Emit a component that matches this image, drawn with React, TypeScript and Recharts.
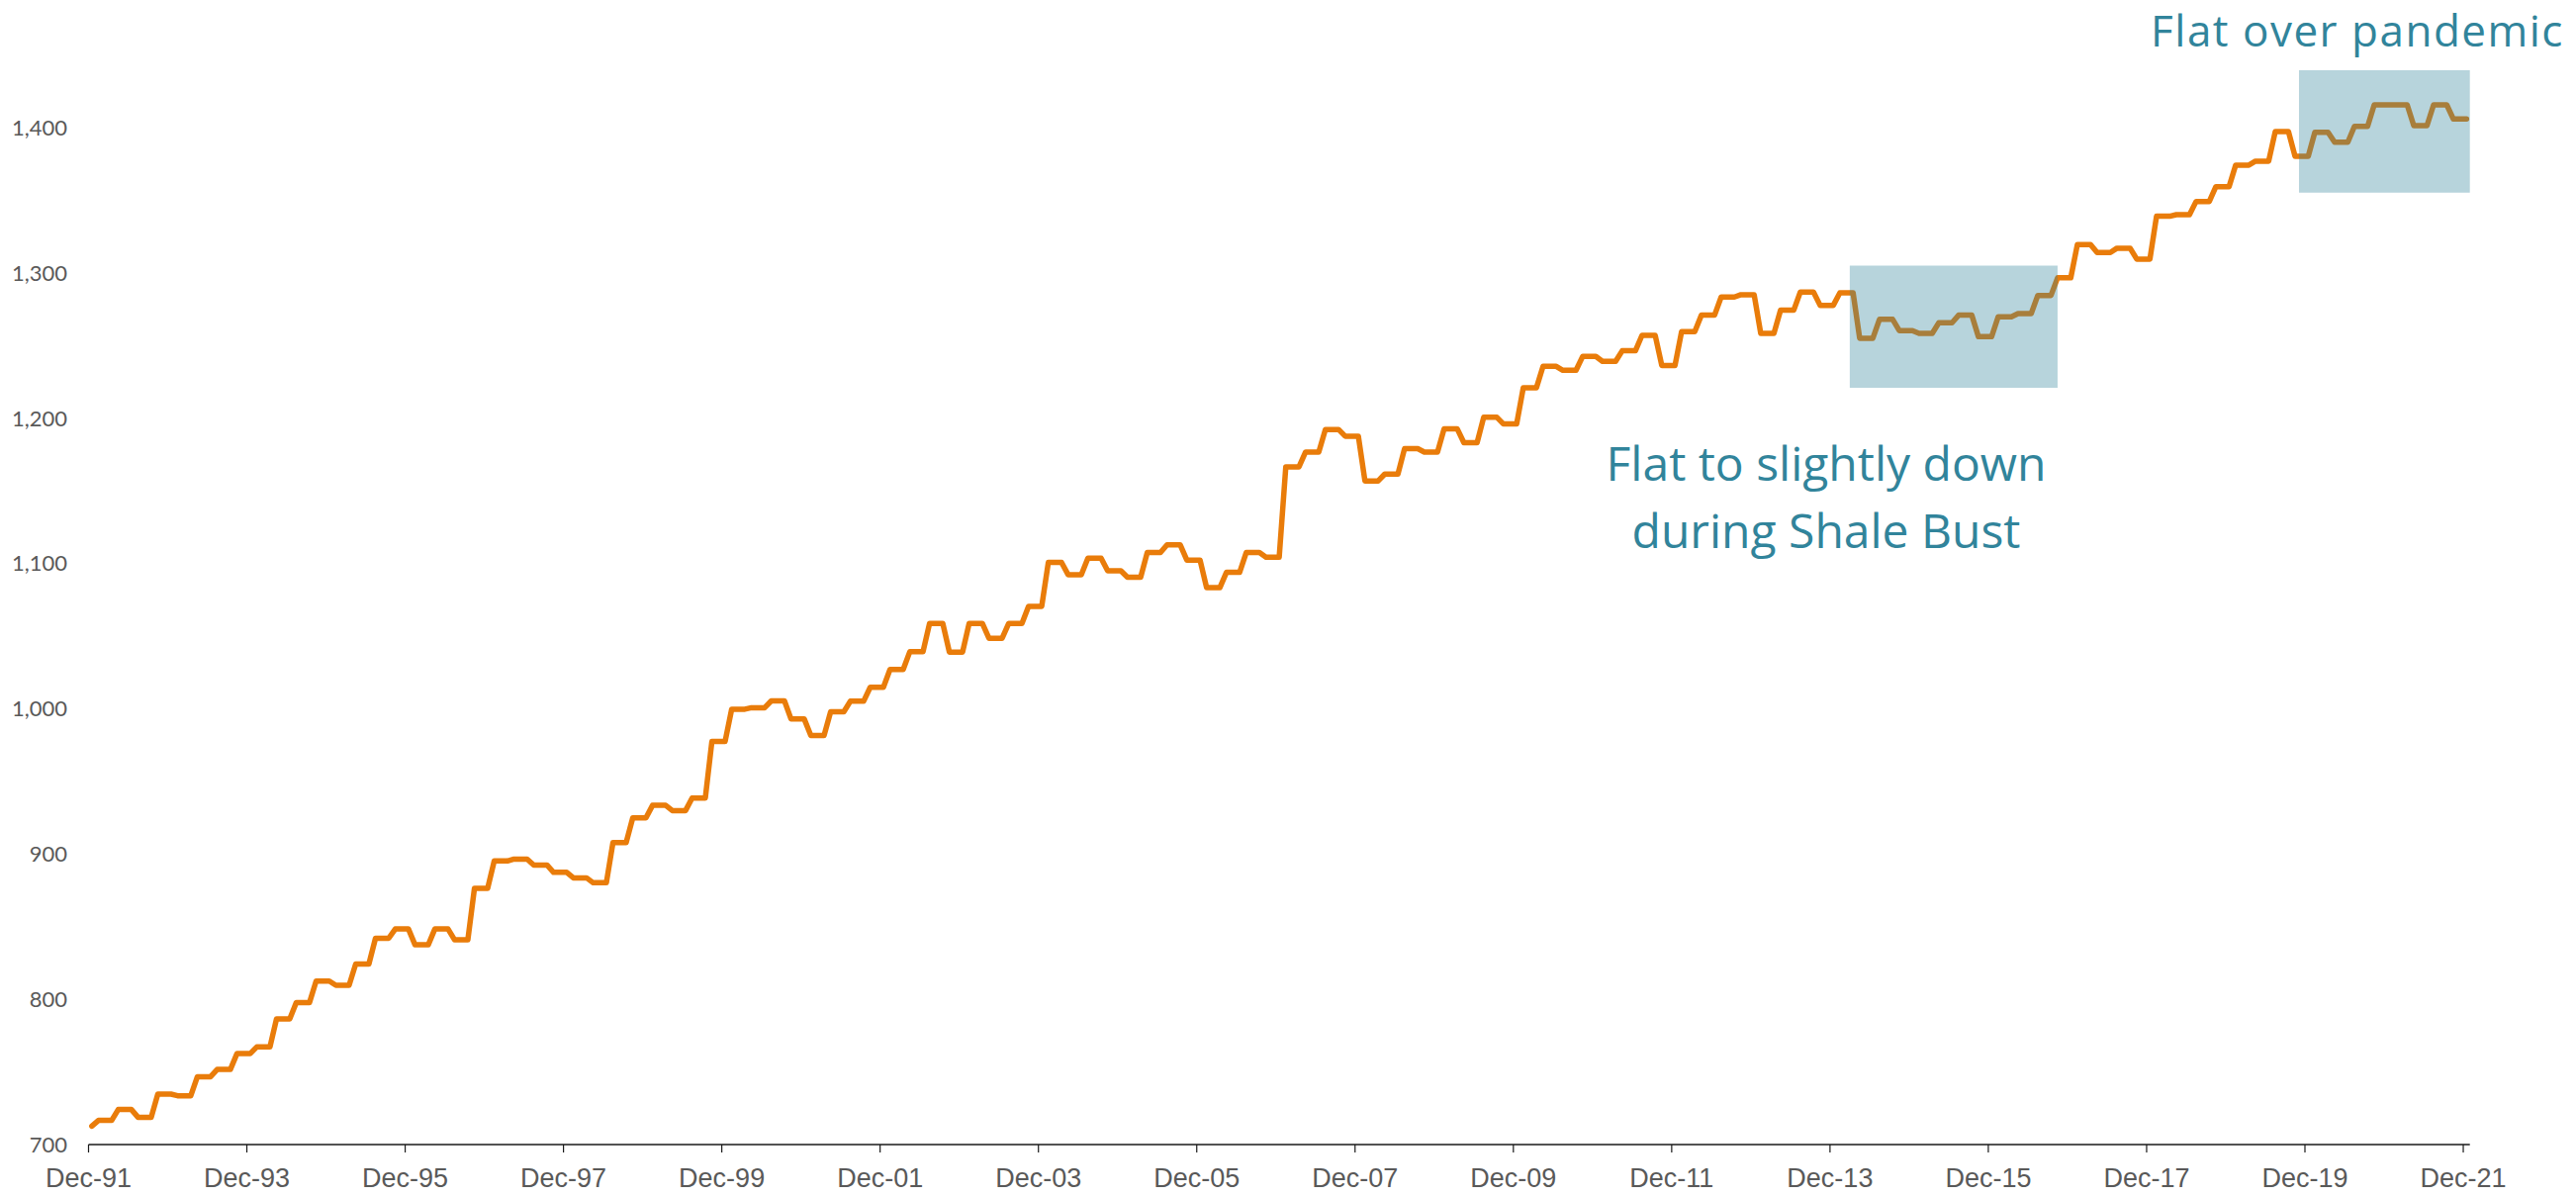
import React from 'react';
import { LineChart, Line, XAxis, YAxis, ReferenceArea } from 'recharts';

// Quarterly readings (first value = Dec-91, then each value holds for 3 months)
const quarterlyValues: number[] = [
  712.7,
  716.6, 724.1, 718.8, 734.7, 733.6, 746.7, 751.7, 762.6, 767.2, 786.5,
  797.8, 812.5, 809.6, 824.3, 842.0, 848.4, 837.5, 848.4, 840.9, 876.3,
  895.2, 896.5, 892.4, 887.4, 883.6, 880.2, 907.9, 924.9, 933.5, 929.9,
  938.5, 977.5, 999.7, 1000.7, 1005.4, 992.9, 981.6, 997.9, 1005.2, 1014.8,
  1027.0, 1039.2, 1058.7, 1039.0, 1058.7, 1048.5, 1058.7, 1070.5, 1100.7, 1092.3,
  1103.7, 1095.0, 1090.5, 1107.5, 1112.8, 1102.3, 1083.3, 1093.9, 1107.5, 1104.3,
  1166.5, 1176.7, 1192.2, 1187.6, 1156.8, 1161.5, 1179.0, 1176.7, 1192.6, 1183.1,
  1200.6, 1196.0, 1221.0, 1235.7, 1233.0, 1242.5, 1239.1, 1246.4, 1257.0, 1236.3,
  1259.6, 1270.9, 1283.4, 1285.0, 1258.4, 1274.3, 1286.8, 1277.7, 1286.3, 1255.0,
  1268.0, 1260.3, 1258.4, 1265.7, 1270.9, 1256.1, 1269.8, 1272.0, 1284.5, 1296.6,
  1319.5, 1314.0, 1317.0, 1309.5, 1339.0, 1340.1, 1349.2, 1359.4, 1374.2, 1376.9,
  1397.3, 1380.3, 1396.8, 1390.0, 1400.9, 1415.7, 1415.7, 1401.4, 1415.7, 1405.9,
];

const xTickLabels: string[] = [
  'Dec-91', 'Dec-93', 'Dec-95', 'Dec-97', 'Dec-99', 'Dec-01', 'Dec-03', 'Dec-05',
  'Dec-07', 'Dec-09', 'Dec-11', 'Dec-13', 'Dec-15', 'Dec-17', 'Dec-19', 'Dec-21',
];
const xTickPositions: number[] = [0, 24, 48, 72, 96, 120, 144, 168, 192, 216, 240, 264, 288, 312, 336, 360];
const yTicks: number[] = [700, 800, 900, 1000, 1100, 1200, 1300, 1400];

const shaleBox = { x1: 267, x2: 298.5, y1: 1221, y2: 1305 };
const pandemicBox = { x1: 335.1, x2: 361, y1: 1355.3, y2: 1439.5 };

const shaleNote: string[] = ['Flat to slightly down', 'during Shale Bust'];
const pandemicNote = 'Flat over pandemic';

const monthCount = 361;
const data: { i: number; v: number }[] = [];
for (let k = 0; k < monthCount; k++) {
  const q = k === 0 ? 0 : Math.ceil(k / 3);
  data.push({ i: k + 0.5, v: quarterlyValues[q] });
}

const labelColor = '#595959';
const noteColor = '#31849B';

export default function App() {
  return (
    <div style={{ position: 'relative', width: 2588, height: 1200 }}>
      <LineChart
        width={2588}
        height={1200}
        data={data}
        margin={{ top: 47.6, right: 99.3, bottom: 6, left: 0 }}
      >
        <XAxis
          dataKey="i"
          type="number"
          domain={[0, 361]}
          ticks={xTickPositions}
          tickFormatter={(v: number) => xTickLabels[xTickPositions.indexOf(v)] ?? ''}
          interval={0}
          height={45}
          axisLine={{ stroke: '#1a1a1a', strokeWidth: 1.5 }}
          tickLine={{ stroke: '#1a1a1a', strokeWidth: 1.2 }}
          tickSize={8}
          tickMargin={15.7}
          tick={{ fill: labelColor, fontSize: 27, fontFamily: '"Liberation Sans", sans-serif' }}
        />
        <YAxis
          type="number"
          domain={[700, 1450]}
          ticks={yTicks}
          interval={0}
          width={81.5}
          axisLine={false}
          tickLine={false}
          tickSize={6}
          tickMargin={15.5}
          tickFormatter={(v: number) => v.toLocaleString('en-US')}
          tick={{ fill: labelColor, fontSize: 22, fontFamily: 'Lato, sans-serif' }}
        />
        <Line
          type="linear"
          dataKey="v"
          stroke="#E97C0A"
          strokeWidth={5.5}
          strokeLinejoin="round"
          strokeLinecap="round"
          dot={false}
          activeDot={false}
          isAnimationActive={false}
        />
        <ReferenceArea {...shaleBox} fill={noteColor} fillOpacity={0.35} stroke="none" zIndex={1000} ifOverflow="visible" />
        <ReferenceArea {...pandemicBox} fill={noteColor} fillOpacity={0.35} stroke="none" zIndex={1000} ifOverflow="visible" />
      </LineChart>
      <div
        style={{
          position: 'absolute',
          left: 1538,
          top: 426.4,
          width: 600,
          textAlign: 'center',
          color: noteColor,
          fontFamily: '"Open Sans", sans-serif',
          fontSize: 48,
          lineHeight: '68px',
          whiteSpace: 'nowrap',
        }}
      >
        {shaleNote.map((t) => (
          <div key={t}>{t}</div>
        ))}
      </div>
      <div
        style={{
          position: 'absolute',
          left: 2155,
          top: 0.4,
          width: 440,
          textAlign: 'center',
          color: noteColor,
          fontFamily: '"Open Sans", sans-serif',
          fontSize: 44,
          letterSpacing: '1.5px',
          lineHeight: '44px',
          whiteSpace: 'nowrap',
        }}
      >
        {pandemicNote}
      </div>
    </div>
  );
}
